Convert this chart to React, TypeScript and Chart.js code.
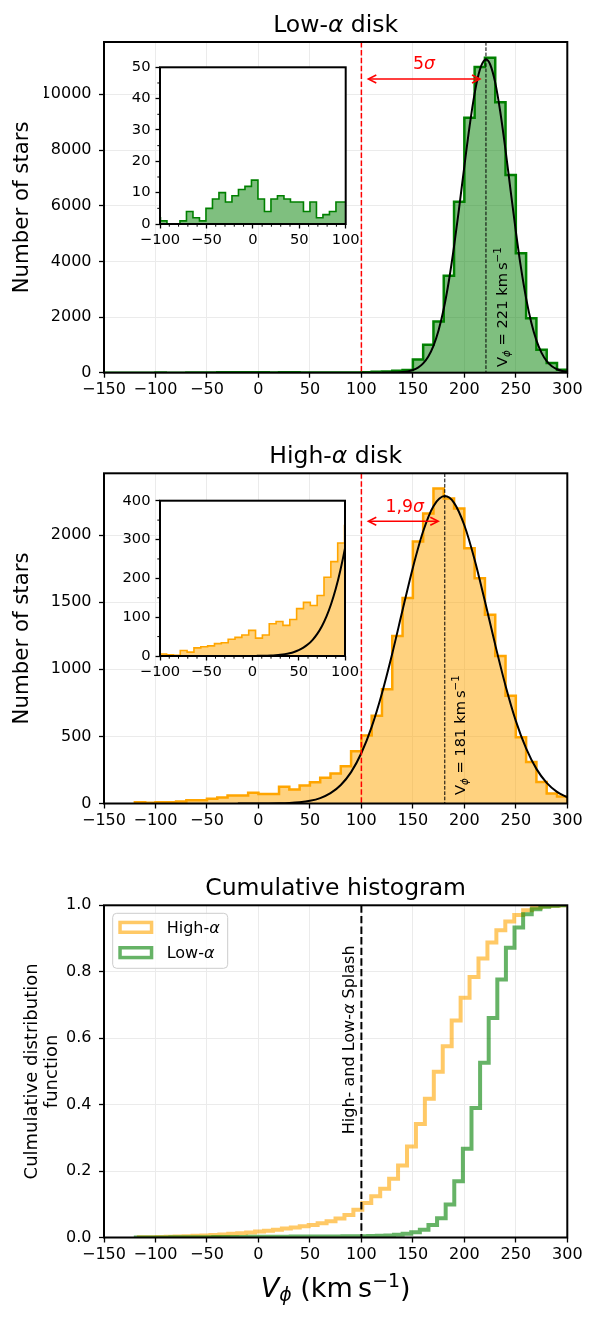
import React, { useEffect, useRef } from "react";
import { Chart, registerables } from "chart.js";

Chart.register(...registerables);

const FONT = "'DejaVu Sans', 'Noto Sans', sans-serif";

// ---------------- data ----------------
const X_TICKS = [-150, -100, -50, 0, 50, 100, 150, 200, 250, 300];
const LOW_Y_TICKS = [0, 2000, 4000, 6000, 8000, 10000];
const HIGH_Y_TICKS = [0, 500, 1000, 1500, 2000];
const CDF_Y_TICKS = [0, 0.2, 0.4, 0.6, 0.8, 1.0];
const INSET_X_TICKS = [-100, -50, 0, 50, 100];
const INSET_X_MINOR = [-90, -80, -70, -60, -40, -30, -20, -10, 10, 20, 30, 40, 60, 70, 80, 90];
const LOW_INSET_Y_TICKS = [0, 10, 20, 30, 40, 50];
const LOW_INSET_Y_MINOR = [5, 15, 25, 35, 45];
const HIGH_INSET_Y_TICKS = [0, 100, 200, 300, 400];
const HIGH_INSET_Y_MINOR = [50, 150, 250, 350];

const SPLASH_CUT = 100;
const LOW_MEAN = 221;
const HIGH_MEAN = 181;

// main histograms, 10 km/s bins
const HIST_BIN = 10;
const LOW_HIST_START = -150;
const LOW_HIST = [
  0, 0, 0, 1, 2, 3, 1, 2, 6, 3, 8, 13, 12, 14, 17,
  19, 10, 13, 12, 10, 9, 9, 5, 6, 10,
  20, 30, 45, 70, 100, 470, 1000, 1840, 3480, 6140,
  9160, 10980, 11310, 9720, 7100, 4290, 1960, 820, 350, 110,
];
const HIGH_HIST_START = -120;
const HIGH_HIST = [
  10, 5, 10, 10, 15, 25, 25, 35, 45, 60, 60, 80,
  70, 70, 125, 105, 134, 159, 192, 224, 278, 390,
  506, 654, 852, 1247, 1531, 1951, 2160, 2346, 2272, 2198,
  1901, 1679, 1407, 1099, 802, 494, 309, 160, 74, 52,
];

// inset histograms
const LOW_INSET_START = -106.5;
const LOW_INSET_BIN = 7;
const LOW_INSET = [
  2, 1, 0, 0, 1, 4, 2, 1, 5, 8, 10, 7, 9, 11, 12,
  14, 8, 4, 8, 9, 8, 7, 7, 4, 7, 2, 3, 4, 7, 7,
];
const HIGH_INSET_START = -100.3;
const HIGH_INSET_BIN = 7.4;
const HIGH_INSET = [
  5, 3, 2, 14, 10, 21, 24, 26, 32, 34, 43, 48, 54, 66,
  46, 54, 83, 89, 79, 94, 122, 138, 130, 156, 203, 243, 291, 336,
];

// gaussian fits
const LOW_FIT_V = [
  120, 125, 130, 135, 140, 145, 150, 155, 160, 165, 170, 175, 180, 185, 190, 195, 200, 205, 210, 215, 220,
  221, 225, 230, 235, 240, 245, 250, 255, 260, 265, 270, 275, 280, 285, 290, 295, 300,
];
const LOW_FIT_N = [
  1, 2, 4, 10, 23, 48, 96, 183, 334, 581, 963, 1523, 2296, 3304, 4537, 5937, 7415, 8830, 10035, 10873, 11240,
  11250, 11081, 10420, 9347, 7995, 6527, 5080, 3772, 2670, 1805, 1163, 714, 419, 234, 125, 64, 31,
];
const HIGH_FIT_V = [
  -20, -10, 0, 10, 20, 30, 40, 50, 60, 70, 80, 90, 100, 110, 120, 130, 140, 150, 160, 170,
  181, 190, 200, 210, 220, 230, 240, 250, 260, 270, 280, 290, 300,
];
const HIGH_FIT_N = [
  0, 0, 0.3, 0.7, 1.8, 4.3, 9.6, 20, 40.5, 77, 138, 234, 376, 571, 822, 1118, 1441, 1757, 2028, 2215,
  2290, 2240, 2073, 1816, 1506, 1182, 878, 616, 410, 258, 154, 87, 46,
];
const HIGH_INSET_FIT_V = [
  -100, -50, 0, 5, 10, 15, 20, 25, 30, 35, 40, 45, 50, 55, 60, 65, 70, 75, 80, 85, 90, 95, 100, 105,
];
const HIGH_INSET_FIT_N = [
  0, 0, 0.2, 0.33, 0.5, 0.85, 1.3, 2.1, 3.2, 4.8, 7.1, 10.4, 15, 21.4, 30, 41.7, 57, 76.7, 102, 134, 173, 221, 278, 345,
];

// cumulative histograms
const HIGH_CDF_START = -116.1;
const HIGH_CDF_BIN = 8.68;
const HIGH_CDF = [
  0.0005, 0.001, 0.0015, 0.002, 0.003, 0.004, 0.005, 0.006, 0.0075, 0.009,
  0.011, 0.013, 0.015, 0.018, 0.02, 0.023, 0.027, 0.03, 0.034, 0.038,
  0.043, 0.049, 0.057, 0.068, 0.0835, 0.104, 0.124, 0.147, 0.177, 0.217,
  0.274, 0.342, 0.418, 0.499, 0.576, 0.653, 0.722, 0.784, 0.84, 0.888,
  0.925, 0.951, 0.971, 0.985, 0.993, 0.997, 0.999, 1.0,
];
const LOW_CDF_START = -119.1;
const LOW_CDF_BIN = 8.36;
const LOW_CDF = [
  0.0001, 0.0002, 0.0003, 0.0003, 0.0004, 0.0005, 0.0006, 0.0008, 0.001, 0.0012,
  0.0014, 0.0016, 0.0018, 0.002, 0.0022, 0.0023, 0.0025, 0.0026, 0.0027, 0.0028,
  0.003, 0.0031, 0.0032, 0.0033, 0.0035, 0.0037, 0.004, 0.0043, 0.005, 0.006,
  0.008, 0.011, 0.016, 0.023, 0.038, 0.058, 0.099, 0.169, 0.267, 0.39,
  0.526, 0.661, 0.777, 0.872, 0.933, 0.973, 0.988, 0.996, 0.999, 1.0,
];

// ---------------- styles ----------------
const GREEN_EDGE = "#008000";
const GREEN_FILL = "rgba(0,128,0,0.5)";
const ORANGE_EDGE = "#FFA500";
const ORANGE_FILL = "rgba(255,165,0,0.5)";
const HIGH_CDF_COLOR = "rgba(255,165,0,0.6)";
const LOW_CDF_COLOR = "rgba(0,128,0,0.6)";

// ---------------- helpers ----------------
type Seg = { t: string; it?: boolean; s?: number; dy?: number };

function rich(
  ctx: CanvasRenderingContext2D,
  segs: Seg[],
  x: number,
  y: number,
  size: number,
  color: string,
  align: "left" | "center" | "right" = "center",
  rot = 0
) {
  ctx.save();
  ctx.translate(x, y);
  if (rot) ctx.rotate(rot);
  ctx.fillStyle = color;
  ctx.textBaseline = "alphabetic";
  ctx.textAlign = "left";
  const f = (g: Seg) => `${g.it ? "italic " : ""}${(size * (g.s ?? 1)).toFixed(2)}px ${FONT}`;
  const ws = segs.map((g) => {
    ctx.font = f(g);
    return ctx.measureText(g.t).width;
  });
  const total = ws.reduce((a, b) => a + b, 0);
  let cx = align === "left" ? 0 : align === "center" ? -total / 2 : -total;
  segs.forEach((g, i) => {
    ctx.font = f(g);
    ctx.fillText(g.t, cx, (g.dy ?? 0) * size);
    cx += ws[i];
  });
  ctx.restore();
}

const fmtNum = (v: number) => (v < 0 ? "\u2212" + Math.abs(v) : String(v));

function histPoints(start: number, bin: number, counts: number[], drop = true) {
  const pts = [{ x: start, y: 0 }];
  counts.forEach((c, i) => {
    pts.push({ x: start + i * bin, y: c }, { x: start + (i + 1) * bin, y: c });
  });
  if (drop) pts.push({ x: start + counts.length * bin, y: 0 });
  return pts;
}
const curvePoints = (xs: number[], ys: number[]) => xs.map((x, i) => ({ x, y: ys[i] }));

type Area = { l: number; t: number; r: number; b: number };
interface PanelSpec {
  w: number;
  h: number;
  area: Area;
  yAxisW: number;
  xAxisH: number;
  xMin: number;
  xMax: number;
  yMin: number;
  yMax: number;
  xTicks: number[];
  yTicks: number[];
  yFmt: (v: number) => string;
  tickSize: number;
  tickLen: number;
  xPad: number;
  yPad: number;
  grid: boolean;
}

function makeOptions(p: PanelSpec): any {
  const font = { family: FONT, size: p.tickSize };
  const grid = {
    display: true,
    drawOnChartArea: p.grid,
    color: "#ebebeb",
    lineWidth: 1,
    drawTicks: true,
    tickLength: p.tickLen,
    tickColor: "#000",
    tickWidth: 1.3,
  };
  return {
    responsive: false,
    maintainAspectRatio: false,
    animation: false,
    events: [],
    layout: {
      padding: {
        left: p.area.l - p.yAxisW,
        right: p.w - p.area.r,
        top: p.area.t,
        bottom: p.h - p.area.b - p.xAxisH,
      },
    },
    plugins: { legend: { display: false }, tooltip: { enabled: false }, title: { display: false } },
    scales: {
      x: {
        type: "linear",
        min: p.xMin,
        max: p.xMax,
        afterFit: (s: any) => {
          s.height = p.xAxisH;
        },
        afterBuildTicks: (s: any) => {
          s.ticks = p.xTicks.map((value) => ({ value }));
        },
        ticks: {
          font,
          color: "#000",
          padding: p.xPad,
          maxRotation: 0,
          minRotation: 0,
          autoSkip: false,
          callback: (v: any) => fmtNum(Number(v)),
        },
        grid,
        border: { display: false },
      },
      y: {
        type: "linear",
        min: p.yMin,
        max: p.yMax,
        afterFit: (s: any) => {
          s.width = p.yAxisW;
        },
        afterBuildTicks: (s: any) => {
          s.ticks = p.yTicks.map((value) => ({ value }));
        },
        ticks: { font, color: "#000", padding: p.yPad, autoSkip: false, callback: (v: any) => p.yFmt(Number(v)) },
        grid,
        border: { display: false },
      },
    },
  };
}

function vline(chart: any, xv: number, color: string, lw: number, dash: number[]) {
  const ctx = chart.ctx as CanvasRenderingContext2D;
  const a = chart.chartArea;
  const x = chart.scales.x.getPixelForValue(xv);
  ctx.save();
  ctx.beginPath();
  ctx.rect(a.left, a.top, a.right - a.left, a.bottom - a.top);
  ctx.clip();
  ctx.beginPath();
  ctx.strokeStyle = color;
  ctx.lineWidth = lw;
  ctx.setLineDash(dash);
  ctx.moveTo(x, a.top);
  ctx.lineTo(x, a.bottom);
  ctx.stroke();
  ctx.restore();
}

function dblArrow(chart: any, x1v: number, x2v: number, yv: number, color: string) {
  const ctx = chart.ctx as CanvasRenderingContext2D;
  const x1 = chart.scales.x.getPixelForValue(x1v);
  const x2 = chart.scales.x.getPixelForValue(x2v);
  const y = chart.scales.y.getPixelForValue(yv);
  const hl = 8;
  const hw = 4;
  ctx.save();
  ctx.strokeStyle = color;
  ctx.lineWidth = 1.5;
  ctx.lineJoin = "miter";
  ctx.beginPath();
  ctx.moveTo(x1 + 1, y);
  ctx.lineTo(x2 - 1, y);
  ctx.stroke();
  ctx.beginPath();
  ctx.moveTo(x1 + hl, y - hw);
  ctx.lineTo(x1, y);
  ctx.lineTo(x1 + hl, y + hw);
  ctx.stroke();
  ctx.beginPath();
  ctx.moveTo(x2 - hl, y - hw);
  ctx.lineTo(x2, y);
  ctx.lineTo(x2 - hl, y + hw);
  ctx.stroke();
  ctx.restore();
}

function frame(chart: any, lw = 2) {
  const ctx = chart.ctx as CanvasRenderingContext2D;
  const a = chart.chartArea;
  ctx.save();
  ctx.strokeStyle = "#000";
  ctx.lineWidth = lw;
  ctx.strokeRect(a.left, a.top, a.right - a.left, a.bottom - a.top);
  ctx.restore();
}

function minorTicks(chart: any, xs: number[], ys: number[], len: number) {
  const ctx = chart.ctx as CanvasRenderingContext2D;
  const a = chart.chartArea;
  ctx.save();
  ctx.strokeStyle = "#000";
  ctx.lineWidth = 1;
  xs.forEach((v) => {
    const x = chart.scales.x.getPixelForValue(v);
    ctx.beginPath();
    ctx.moveTo(x, a.bottom);
    ctx.lineTo(x, a.bottom + len);
    ctx.stroke();
  });
  ys.forEach((v) => {
    const y = chart.scales.y.getPixelForValue(v);
    ctx.beginPath();
    ctx.moveTo(a.left, y);
    ctx.lineTo(a.left - len, y);
    ctx.stroke();
  });
  ctx.restore();
}

function roundRectPath(ctx: CanvasRenderingContext2D, x: number, y: number, w: number, h: number, r: number) {
  ctx.beginPath();
  ctx.moveTo(x + r, y);
  ctx.lineTo(x + w - r, y);
  ctx.arcTo(x + w, y, x + w, y + r, r);
  ctx.lineTo(x + w, y + h - r);
  ctx.arcTo(x + w, y + h, x + w - r, y + h, r);
  ctx.lineTo(x + r, y + h);
  ctx.arcTo(x, y + h, x, y + h - r, r);
  ctx.lineTo(x, y + r);
  ctx.arcTo(x, y, x + r, y, r);
  ctx.closePath();
}

const W = 595;
const MAIN_AREA_L = 104;
const MAIN_AREA_R = 567.3;

function mainSpec(h: number, t: number, b: number, yMax: number, yTicks: number[], yFmt: (v: number) => string): PanelSpec {
  return {
    w: W,
    h,
    area: { l: MAIN_AREA_L, t, r: MAIN_AREA_R, b },
    yAxisW: 60,
    xAxisH: 30,
    xMin: -150,
    xMax: 300,
    yMin: 0,
    yMax,
    xTicks: X_TICKS,
    yTicks,
    yFmt,
    tickSize: 16,
    tickLen: 5,
    xPad: 3,
    yPad: 7.5,
    grid: true,
  };
}

function insetSpec(t: number, b: number, r: number, yMax: number, yTicks: number[]): PanelSpec {
  return {
    w: 275,
    h: 215,
    area: { l: 60, t, r, b },
    yAxisW: 40,
    xAxisH: 25,
    xMin: -100,
    xMax: 100,
    yMin: 0,
    yMax,
    xTicks: INSET_X_TICKS,
    yTicks,
    yFmt: (v) => fmtNum(v),
    tickSize: 14.7,
    tickLen: 4.5,
    xPad: 3,
    yPad: 5,
    grid: false,
  };
}

const lineBase = { pointRadius: 0, pointHoverRadius: 0, clip: 0, tension: 0 };

function titleAndYLabel(chart: any, title: Seg[]) {
  const ctx = chart.ctx as CanvasRenderingContext2D;
  const a = chart.chartArea;
  rich(ctx, title, (a.left + a.right) / 2, a.top - 10, 23.5, "#000", "center");
}

export default function App() {
  const c1 = useRef<HTMLCanvasElement>(null);
  const c2 = useRef<HTMLCanvasElement>(null);
  const c3 = useRef<HTMLCanvasElement>(null);
  const i1 = useRef<HTMLCanvasElement>(null);
  const i2 = useRef<HTMLCanvasElement>(null);

  useEffect(() => {
    const charts: Chart[] = [];

    // ---------- Panel 1: Low-alpha disk ----------
    charts.push(
      new Chart(c1.current as HTMLCanvasElement, {
        type: "line",
        data: {
          datasets: [
            {
              ...lineBase,
              data: curvePoints(LOW_FIT_V, LOW_FIT_N),
              borderColor: "#000",
              borderWidth: 2,
              fill: false,
              cubicInterpolationMode: "monotone",
              order: 0,
            } as any,
            {
              ...lineBase,
              data: histPoints(LOW_HIST_START, HIST_BIN, LOW_HIST),
              borderColor: GREEN_EDGE,
              backgroundColor: GREEN_FILL,
              borderWidth: 2.5,
              borderJoinStyle: "miter",
              fill: "origin",
              order: 1,
            } as any,
          ],
        },
        options: makeOptions(mainSpec(431, 42, 372.7, 11880, LOW_Y_TICKS, (v) => String(v))),
        plugins: [
          {
            id: "p1",
            afterDatasetsDraw(chart: any) {
              const ctx = chart.ctx;
              vline(chart, SPLASH_CUT, "#ff0000", 1.5, [5.5, 2.4]);
              vline(chart, LOW_MEAN, "#000", 1, [3.7, 1.6]);
              dblArrow(chart, 106.7, 215.2, 10550, "#ff0000");
              rich(
                ctx,
                [{ t: "5" }, { t: "\u03c3", it: true }],
                chart.scales.x.getPixelForValue(160.8),
                chart.scales.y.getPixelForValue(10898),
                17.3,
                "#ff0000",
                "center"
              );
              rich(
                ctx,
                [
                  { t: "V" },
                  { t: "\u03d5", it: true, s: 0.7, dy: 0.2 },
                  { t: " = 221 km\u2009s" },
                  { t: "\u22121", s: 0.7, dy: -0.4 },
                ],
                chart.scales.x.getPixelForValue(241.1),
                chart.scales.y.getPixelForValue(205),
                14.7,
                "#000",
                "left",
                -Math.PI / 2
              );
              frame(chart);
            },
            afterDraw(chart: any) {
              const ctx = chart.ctx;
              const a = chart.chartArea;
              titleAndYLabel(chart, [{ t: "Low-" }, { t: "\u03b1", it: true }, { t: " disk" }]);
              rich(ctx, [{ t: "Number of stars" }], 28.3, (a.top + a.bottom) / 2, 21.3, "#000", "center", -Math.PI / 2);
            },
          },
        ],
      })
    );

    // ---------- Panel 2: High-alpha disk ----------
    charts.push(
      new Chart(c2.current as HTMLCanvasElement, {
        type: "line",
        data: {
          datasets: [
            {
              ...lineBase,
              data: curvePoints(HIGH_FIT_V, HIGH_FIT_N),
              borderColor: "#000",
              borderWidth: 2,
              fill: false,
              cubicInterpolationMode: "monotone",
              order: 0,
            } as any,
            {
              ...lineBase,
              data: histPoints(HIGH_HIST_START, HIST_BIN, HIGH_HIST),
              borderColor: ORANGE_EDGE,
              backgroundColor: ORANGE_FILL,
              borderWidth: 2.5,
              borderJoinStyle: "miter",
              fill: "origin",
              order: 1,
            } as any,
          ],
        },
        options: makeOptions(mainSpec(431, 42.3, 372.5, 2460, HIGH_Y_TICKS, (v) => String(v))),
        plugins: [
          {
            id: "p2",
            afterDatasetsDraw(chart: any) {
              const ctx = chart.ctx;
              vline(chart, SPLASH_CUT, "#ff0000", 1.5, [5.5, 2.4]);
              vline(chart, HIGH_MEAN, "#000", 1, [3.7, 1.6]);
              dblArrow(chart, 106.7, 174.7, 2103, "#ff0000");
              rich(
                ctx,
                [{ t: "1,9" }, { t: "\u03c3", it: true }],
                chart.scales.x.getPixelForValue(142),
                chart.scales.y.getPixelForValue(2170),
                17.3,
                "#ff0000",
                "center"
              );
              rich(
                ctx,
                [
                  { t: "V" },
                  { t: "\u03d5", it: true, s: 0.7, dy: 0.2 },
                  { t: " = 181 km\u2009s" },
                  { t: "\u22121", s: 0.7, dy: -0.4 },
                ],
                chart.scales.x.getPixelForValue(200.6),
                chart.scales.y.getPixelForValue(63),
                14.7,
                "#000",
                "left",
                -Math.PI / 2
              );
              frame(chart);
            },
            afterDraw(chart: any) {
              const ctx = chart.ctx;
              const a = chart.chartArea;
              titleAndYLabel(chart, [{ t: "High-" }, { t: "\u03b1", it: true }, { t: " disk" }]);
              rich(ctx, [{ t: "Number of stars" }], 28.3, (a.top + a.bottom) / 2, 21.3, "#000", "center", -Math.PI / 2);
            },
          },
        ],
      })
    );

    // ---------- Panel 3: Cumulative ----------
    charts.push(
      new Chart(c3.current as HTMLCanvasElement, {
        type: "line",
        data: {
          datasets: [
            {
              ...lineBase,
              data: histPoints(LOW_CDF_START, LOW_CDF_BIN, LOW_CDF, false),
              borderColor: LOW_CDF_COLOR,
              borderWidth: 4,
              borderJoinStyle: "miter",
              fill: false,
              order: 0,
            } as any,
            {
              ...lineBase,
              data: histPoints(HIGH_CDF_START, HIGH_CDF_BIN, HIGH_CDF, false),
              borderColor: HIGH_CDF_COLOR,
              borderWidth: 4,
              borderJoinStyle: "miter",
              fill: false,
              order: 1,
            } as any,
          ],
        },
        options: makeOptions(mainSpec(456, 43.3, 375.5, 1.0, CDF_Y_TICKS, (v) => v.toFixed(1))),
        plugins: [
          {
            id: "p3",
            afterDatasetsDraw(chart: any) {
              const ctx = chart.ctx as CanvasRenderingContext2D;
              const a = chart.chartArea;
              vline(chart, SPLASH_CUT, "#000", 2, [7.4, 3.2]);
              rich(
                ctx,
                [{ t: "High- and Low-" }, { t: "\u03b1", it: true }, { t: " Splash" }],
                chart.scales.x.getPixelForValue(92.8),
                chart.scales.y.getPixelForValue(0.311),
                16,
                "#000",
                "left",
                -Math.PI / 2
              );
              // legend
              const lx = a.left + 8.7;
              const ly = a.top + 8;
              ctx.save();
              roundRectPath(ctx, lx, ly, 115, 55, 4);
              ctx.fillStyle = "rgba(255,255,255,0.8)";
              ctx.fill();
              ctx.strokeStyle = "#cccccc";
              ctx.lineWidth = 1;
              ctx.stroke();
              const items = [
                { label: "High-", color: HIGH_CDF_COLOR, dy: 15.4, by: 28 },
                { label: "Low-", color: LOW_CDF_COLOR, dy: 40.7, by: 53 },
              ];
              items.forEach((it) => {
                ctx.strokeStyle = it.color;
                ctx.lineWidth = 3.5;
                ctx.lineJoin = "miter";
                ctx.strokeRect(a.left + 14.3 + 1.75, a.top + it.dy + 1.75, 35 - 3.5, 13.3 - 3.5);
                rich(ctx, [{ t: it.label }, { t: "\u03b1", it: true }], a.left + 62.7, a.top + it.by, 16, "#000", "left");
              });
              ctx.restore();
              frame(chart);
            },
            afterDraw(chart: any) {
              const ctx = chart.ctx;
              const a = chart.chartArea;
              titleAndYLabel(chart, [{ t: "Cumulative histogram" }]);
              const cy = (a.top + a.bottom) / 2;
              rich(ctx, [{ t: "Culmulative distribution" }], 36.5, cy, 18, "#000", "center", -Math.PI / 2);
              rich(ctx, [{ t: "function" }], 57, cy, 18, "#000", "center", -Math.PI / 2);
              rich(
                ctx,
                [
                  { t: "V", it: true },
                  { t: "\u03d5", it: true, s: 0.7, dy: 0.17 },
                  { t: " (km\u2009s" },
                  { t: "\u22121", s: 0.7, dy: -0.36 },
                  { t: ")" },
                ],
                (a.left + a.right) / 2,
                a.bottom + 59.2,
                27,
                "#000",
                "center"
              );
            },
          },
        ],
      })
    );

    // ---------- Inset 1 ----------
    charts.push(
      new Chart(i1.current as HTMLCanvasElement, {
        type: "line",
        data: {
          datasets: [
            {
              ...lineBase,
              data: histPoints(LOW_INSET_START, LOW_INSET_BIN, LOW_INSET),
              borderColor: GREEN_EDGE,
              backgroundColor: GREEN_FILL,
              borderWidth: 1.6,
              borderJoinStyle: "miter",
              fill: "origin",
            } as any,
          ],
        },
        options: makeOptions(insetSpec(17.3, 174, 245.7, 50, LOW_INSET_Y_TICKS)),
        plugins: [
          {
            id: "in1",
            beforeDraw(chart: any) {
              const a = chart.chartArea;
              const ctx = chart.ctx;
              ctx.save();
              ctx.fillStyle = "#fff";
              ctx.fillRect(a.left, a.top, a.right - a.left, a.bottom - a.top);
              ctx.restore();
            },
            afterDatasetsDraw(chart: any) {
              minorTicks(chart, INSET_X_MINOR, LOW_INSET_Y_MINOR, 2.7);
              frame(chart);
            },
          },
        ],
      })
    );

    // ---------- Inset 2 ----------
    charts.push(
      new Chart(i2.current as HTMLCanvasElement, {
        type: "line",
        data: {
          datasets: [
            {
              ...lineBase,
              data: curvePoints(HIGH_INSET_FIT_V, HIGH_INSET_FIT_N),
              borderColor: "#000",
              borderWidth: 2,
              fill: false,
              cubicInterpolationMode: "monotone",
              order: 0,
            } as any,
            {
              ...lineBase,
              data: histPoints(HIGH_INSET_START, HIGH_INSET_BIN, HIGH_INSET),
              borderColor: ORANGE_EDGE,
              backgroundColor: ORANGE_FILL,
              borderWidth: 1.6,
              borderJoinStyle: "miter",
              fill: "origin",
              order: 1,
            } as any,
          ],
        },
        options: makeOptions(insetSpec(19.7, 175, 245, 400, HIGH_INSET_Y_TICKS)),
        plugins: [
          {
            id: "in2",
            beforeDraw(chart: any) {
              const a = chart.chartArea;
              const ctx = chart.ctx;
              ctx.save();
              ctx.fillStyle = "#fff";
              ctx.fillRect(a.left, a.top, a.right - a.left, a.bottom - a.top);
              ctx.restore();
            },
            afterDatasetsDraw(chart: any) {
              minorTicks(chart, INSET_X_MINOR, HIGH_INSET_Y_MINOR, 2.7);
              frame(chart);
            },
          },
        ],
      })
    );

    return () => charts.forEach((c) => c.destroy());
  }, []);

  const abs = (left: number, top: number, w: number, h: number): React.CSSProperties => ({
    position: "absolute",
    left,
    top,
    width: w,
    height: h,
  });

  return (
    <div style={{ position: "absolute", left: 0, top: 0, width: 595, height: 1318, background: "#fff", overflow: "hidden" }}>
      <canvas ref={c1} width={595} height={431} style={abs(0, 0, 595, 431)} />
      <canvas ref={c2} width={595} height={431} style={abs(0, 431, 595, 431)} />
      <canvas ref={c3} width={595} height={456} style={abs(0, 862, 595, 456)} />
      <canvas ref={i1} width={275} height={215} style={abs(100, 50, 275, 215)} />
      <canvas ref={i2} width={275} height={215} style={abs(100, 481, 275, 215)} />
    </div>
  );
}
